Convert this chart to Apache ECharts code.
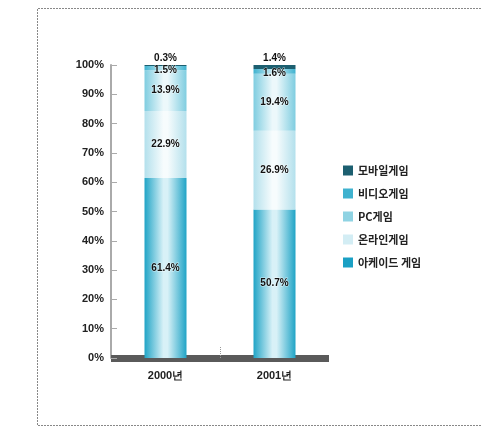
<!DOCTYPE html>
<html><head><meta charset="utf-8">
<script src="https://cdn.jsdelivr.net/npm/echarts@6/dist/echarts.min.js"></script>
<style>html,body{margin:0;padding:0;background:#fff}#c{width:493px;height:427px}</style>
</head><body><div id="c"></div>
<script>
const categories = ['2000년', '2001년'];
const arcade = [61.4, 50.7];
const online = [22.9, 26.9];
const pc = [13.9, 19.4];
const video = [1.5, 1.6];
const mobile = [0.3, 1.4];
const yTicks = [0, 10, 20, 30, 40, 50, 60, 70, 80, 90, 100];

function cyl(edge, mid) {
  return new echarts.graphic.LinearGradient(0, 0, 1, 0, [
    {offset: 0, color: edge}, {offset: 0.45, color: mid}, {offset: 0.55, color: mid}, {offset: 1, color: edge}
  ]);
}
const lbl = {show: true, position: 'inside', formatter: p => p.value + '%', color: '#111',
  fontFamily: 'Liberation Sans', fontSize: 10, fontWeight: 'bold', textBorderColor: 'rgba(255,255,255,0.6)', textBorderWidth: 1};
const barW = 42;
const legendText = {fontFamily: 'Noto Sans CJK KR', fontSize: 11, fontWeight: 'bold', color: '#222'};
const chart = echarts.init(document.getElementById('c'));
chart.setOption({
  animation: false,
  grid: {left: 111, top: 65, width: 218, bottom: 69},
  graphic: [
    {type: 'polyline', shape: {points: [[481, 8.5], [37.5, 8.5], [37.5, 425.5], [481, 425.5]]},
     style: {stroke: '#888', lineWidth: 1, lineDash: [2, 1], fill: null}}
  ],
  legend: {
    orient: 'vertical', left: 338, top: 160, itemWidth: 10, itemHeight: 10, itemGap: 12,
    icon: 'rect',
    data: [
      {name: '모바일게임', itemStyle: {color: '#1c5f70'}},
      {name: '비디오게임', itemStyle: {color: '#3fb2cf'}},
      {name: 'PC게임', itemStyle: {color: '#8fd3e3'}},
      {name: '온라인게임', itemStyle: {color: '#d3edf4'}},
      {name: '아케이드 게임', itemStyle: {color: '#1aa0c4'}}
    ],
    textStyle: legendText
  },
  xAxis: [{
    type: 'category', data: categories,
    axisLine: {lineStyle: {color: '#5a5a5a', width: 7, cap: 'butt'}},
    axisTick: {show: false},
    axisLabel: {color: '#222', fontFamily: 'Liberation Sans', fontSize: 11, fontWeight: 'bold', margin: 12}
  }, {
    type: 'value', min: 0, max: 2, interval: 1, position: 'bottom', silent: true,
    axisLine: {show: false}, axisLabel: {show: false}, splitLine: {show: false},
    axisTick: {show: true, inside: true, length: 12, customValues: [1], lineStyle: {color: '#999', width: 1, type: [1, 1]}}
  }],
  yAxis: {
    type: 'value', min: 0, max: 100, interval: 10, offset: 1,
    axisLine: {show: true, lineStyle: {color: '#aaa', width: 2}},
    axisTick: {show: true, inside: true, length: 6, lineStyle: {color: '#aaa'}},
    splitLine: {show: false},
    axisLabel: {formatter: v => yTicks.includes(v) ? v + '%' : '', color: '#222', fontFamily: 'Liberation Sans', fontSize: 11, fontWeight: 'bold', margin: 6}
  },
  series: [
    {name: '아케이드 게임', type: 'bar', stack: 's', data: arcade, barWidth: barW, label: lbl,
      itemStyle: {color: cyl('#20a4c6', '#d8f1f7')}},
    {name: '온라인게임', type: 'bar', stack: 's', data: online, barWidth: barW, label: lbl,
      itemStyle: {color: cyl('#b3e0ec', '#f7fcfd')}},
    {name: 'PC게임', type: 'bar', stack: 's', data: pc, barWidth: barW, label: lbl,
      itemStyle: {color: cyl('#7fcde0', '#ecf8fb')}},
    {name: '비디오게임', type: 'bar', stack: 's', data: video, barWidth: barW, label: Object.assign({}, lbl, {position: 'inside', offset: [0, 2]}),
      itemStyle: {color: cyl('#3fb2cf', '#c6eaf3')}},
    {name: '모바일게임', type: 'bar', stack: 's', data: mobile, barWidth: barW, label: Object.assign({}, lbl, {position: 'top', distance: 2}),
      itemStyle: {color: '#1c5f70'}}
  ]
});
</script></body></html>
